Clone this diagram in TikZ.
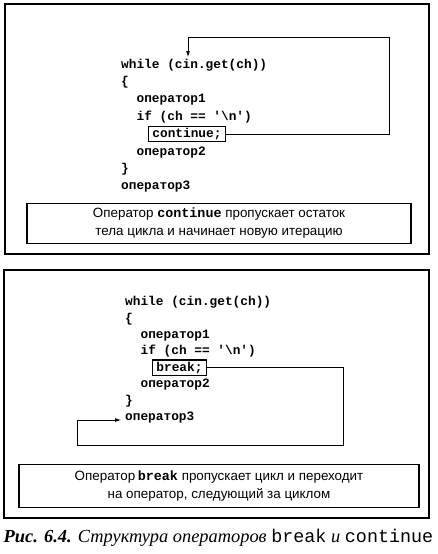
\documentclass[tikz,border=0pt]{standalone}
\usepackage{fontspec}
\setmainfont{Liberation Serif}
\setsansfont{Liberation Sans}
\setmonofont{Liberation Mono}
\usetikzlibrary{arrows.meta,calc,positioning}

\begin{document}
\begin{tikzpicture}[x=1pt, y=-1pt, >={Latex[length=6pt,width=4pt]},
  codeline/.style={font=\ttfamily\bfseries\fontsize{12.8}{14}\selectfont, inner sep=0pt, anchor=base west},
  stmtbox/.style={draw, line width=1.2pt, inner xsep=4pt, inner ysep=2pt},
  notebox/.style={draw, line width=1.2pt, align=center, font=\sffamily\fontsize{13.4}{18}\selectfont},
  panel/.style={draw, line width=1.3pt},
  flow/.style={line width=0.8pt}]
 \useasboundingbox (0,0) rectangle (437,554);

 % continue
 \draw[panel] (5,4) rectangle (429,254);
 \node[codeline] (whileA) at (121,68) {while (cin.get(ch))};
 \node[codeline] (openA) at (121,85.4) {\{};
 \node[codeline] (opA1) at (136.4,102.8) {оператор1};
 \node[codeline] (ifA) at (136.4,120.2) {if (ch == '\textbackslash n')};
 \node[codeline, stmtbox] (cont) at (147.8,137.6) {continue;};
 \node[codeline] (opA2) at (136.4,155) {оператор2};
 \node[codeline] (closeA) at (121,172.4) {\}};
 \node[codeline] (opA3) at (121,189.8) {оператор3};
 \coordinate (contTurn) at (389,37);
 \coordinate (contEnd) at (188,57);
 \draw[flow,->] (cont.east) -| (contTurn) -| (contEnd);
 \node[notebox, minimum width=384pt, minimum height=40pt] (noteA) at (219,223.5)
  {Оператор {\ttfamily\bfseries continue} пропускает остаток\\тела цикла и начинает новую итерацию};

 % break
 \draw[panel] (4,270) rectangle (429,518);
 \node[codeline] (whileB) at (125,305.5) {while (cin.get(ch))};
 \node[codeline] (openB) at (125,322) {\{};
 \node[codeline] (opB1) at (140.4,338.4) {оператор1};
 \node[codeline] (ifB) at (140.4,354.8) {if (ch == '\textbackslash n')};
 \node[codeline, stmtbox] (brk) at (151.8,371.2) {break;};
 \node[codeline] (opB2) at (140.4,387.6) {оператор2};
 \node[codeline] (closeB) at (125,404) {\}};
 \node[codeline] (opB3) at (125,420.4) {оператор3};
 \coordinate (brkDown) at (343,445);
 \coordinate (brkBack) at (77,420);
 \draw[flow,->] (brk.east) -| (brkDown) -| (brkBack) -- ([xshift=-4pt]brkBack -| opB3.west);
 \node[notebox, minimum width=400pt, minimum height=43pt] (noteB) at (219,486)
  {Оператор\hspace{2.5pt}{\ttfamily\bfseries break} пропускает цикл и переходит\\на оператор, следующий за циклом};

 \node[anchor=base, inner sep=0pt, font=\fontsize{18.4}{20}\selectfont] (caption) at (218.5,542)
  {{\bfseries\itshape Рис. 6.4.} {\itshape Структура операторов} {\ttfamily break} {\itshape и} {\ttfamily continue}};
\end{tikzpicture}
\end{document}
